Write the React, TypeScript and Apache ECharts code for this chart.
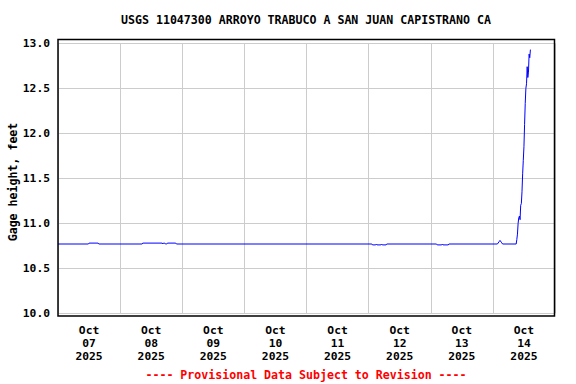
import React, { useEffect, useRef } from "react";
import * as echarts from "echarts";

// Time stamps (UTC) of the recorded changes and the gage heights, feet
const times = [
  "2025-10-07 00:00", "2025-10-07 11:45", "2025-10-07 12:00", "2025-10-07 15:30", "2025-10-07 15:45",
  "2025-10-08 08:30", "2025-10-08 08:45", "2025-10-08 16:15", "2025-10-08 16:30", "2025-10-08 16:45",
  "2025-10-08 17:15", "2025-10-08 17:30", "2025-10-08 18:00", "2025-10-08 18:15", "2025-10-08 21:30",
  "2025-10-08 21:45",
  "2025-10-12 01:15", "2025-10-12 01:30", "2025-10-12 02:45", "2025-10-12 03:00", "2025-10-12 03:15",
  "2025-10-12 04:45", "2025-10-12 05:00", "2025-10-12 05:15", "2025-10-12 06:45", "2025-10-12 07:00",
  "2025-10-13 02:15", "2025-10-13 02:30", "2025-10-13 04:15", "2025-10-13 04:30", "2025-10-13 04:45",
  "2025-10-13 06:45", "2025-10-13 07:00",
  "2025-10-14 01:45", "2025-10-14 02:00", "2025-10-14 02:30", "2025-10-14 02:45", "2025-10-14 03:15",
  "2025-10-14 03:45", "2025-10-14 09:00", "2025-10-14 09:15", "2025-10-14 09:30", "2025-10-14 09:45",
  "2025-10-14 10:00", "2025-10-14 10:15", "2025-10-14 10:30", "2025-10-14 10:45", "2025-10-14 11:00",
  "2025-10-14 11:15", "2025-10-14 11:30", "2025-10-14 11:45", "2025-10-14 12:00", "2025-10-14 12:15",
  "2025-10-14 12:30", "2025-10-14 12:45", "2025-10-14 13:00", "2025-10-14 13:15", "2025-10-14 13:30",
  "2025-10-14 13:45", "2025-10-14 14:00", "2025-10-14 14:15", "2025-10-14 14:30",
];
const heights = [
  10.77, 10.77, 10.78, 10.78, 10.77,
  10.77, 10.78, 10.78, 10.77, 10.78,
  10.78, 10.77, 10.77, 10.78, 10.78,
  10.77,
  10.77, 10.76, 10.76, 10.77, 10.76,
  10.76, 10.77, 10.76, 10.76, 10.77,
  10.77, 10.76, 10.76, 10.77, 10.76,
  10.76, 10.77,
  10.77, 10.78, 10.80, 10.81, 10.79,
  10.77, 10.77, 10.82, 10.88, 11.0,
  11.06, 11.08, 11.04, 11.2, 11.22,
  11.35, 11.55, 11.7, 11.85, 12.1,
  12.33, 12.5, 12.55, 12.74, 12.62,
  12.68, 12.88, 12.84, 12.93,
];
const dayLabels = [
  "Oct\n07\n2025", "Oct\n08\n2025", "Oct\n09\n2025", "Oct\n10\n2025",
  "Oct\n11\n2025", "Oct\n12\n2025", "Oct\n13\n2025", "Oct\n14\n2025",
];
const startTime = "2025-10-07 00:00";
const endTime = "2025-10-15 00:00";
const yMin = 10;
const yMax = 13;
const yStep = 0.5;

const titleText = "USGS 11047300 ARROYO TRABUCO A SAN JUAN CAPISTRANO CA";
const yName = "Gage height, feet";
const footerText = "---- Provisional Data Subject to Revision ----";

const toMs = (s: string) => Date.parse(s.replace(" ", "T") + ":00Z");
const MONO = "'DejaVu Sans Mono', 'Liberation Mono', monospace";

export default function App() {
  const ref = useRef<HTMLDivElement>(null);
  useEffect(() => {
    document.body.style.margin = "0";
    if (!ref.current) return;
    const chart = echarts.init(ref.current, null, { renderer: "svg" });
    const data = times.map((t, i) => [toMs(t), heights[i]]);
    chart.setOption({
      animation: false,
      backgroundColor: "#ffffff",
      grid: { left: 58, right: 21, top: 43.3, bottom: 70.7, containLabel: false },
      xAxis: [
        {
          type: "value",
          min: toMs(startTime),
          max: toMs(endTime),
          interval: 86400000,
          axisLabel: { show: false },
          axisLine: { show: false },
          axisTick: { show: false },
          splitLine: { show: true, lineStyle: { color: "#cccccc", width: 1 } },
        },
        {
          type: "category",
          position: "bottom",
          data: dayLabels,
          boundaryGap: true,
          axisLine: { show: false },
          axisTick: { show: false },
          splitLine: { show: false },
          axisLabel: {
            margin: 11,
            lineHeight: 13,
            fontFamily: MONO,
            fontWeight: "bold",
            fontSize: 11.3,
            color: "#000000",
          },
        },
      ],
      yAxis: {
        type: "value",
        min: yMin,
        max: yMax,
        interval: yStep,
        axisLine: { show: false },
        axisTick: { show: false },
        splitLine: { show: true, lineStyle: { color: "#cccccc", width: 1 } },
        axisLabel: {
          margin: 8,
          fontFamily: MONO,
          fontWeight: "bold",
          fontSize: 11.3,
          color: "#000000",
          formatter: (v: number) => v.toFixed(1),
        },
      },
      series: [
        {
          type: "line",
          xAxisIndex: 0,
          data,
          showSymbol: false,
          symbol: "none",
          lineStyle: { color: "#0000ff", width: 1 },
        },
      ],
      graphic: [
        {
          type: "rect",
          shape: { x: 58, y: 39.5, width: 496.5, height: 276.5 },
          style: { fill: "none", stroke: "#000000", lineWidth: 1.5 },
          silent: true,
          z: 100,
        },
        {
          type: "text",
          x: 306,
          y: 20,
          style: {
            text: titleText,
            font: "bold 11.6px " + MONO,
            fill: "#000000",
            textAlign: "center",
            textVerticalAlign: "middle",
          },
        },
        {
          type: "text",
          x: 13,
          y: 182,
          rotation: Math.PI / 2,
          style: {
            text: yName,
            font: "bold 11.6px " + MONO,
            fill: "#000000",
            textAlign: "center",
            textVerticalAlign: "middle",
          },
        },
        {
          type: "text",
          x: 306,
          y: 375,
          style: {
            text: footerText,
            font: "bold 11.6px " + MONO,
            fill: "#ff0000",
            textAlign: "center",
            textVerticalAlign: "middle",
          },
        },
      ],
    });
    return () => chart.dispose();
  }, []);
  return (
    <div
      ref={ref}
      style={{ width: 576, height: 384, position: "absolute", left: 0, top: 0 }}
    />
  );
}
